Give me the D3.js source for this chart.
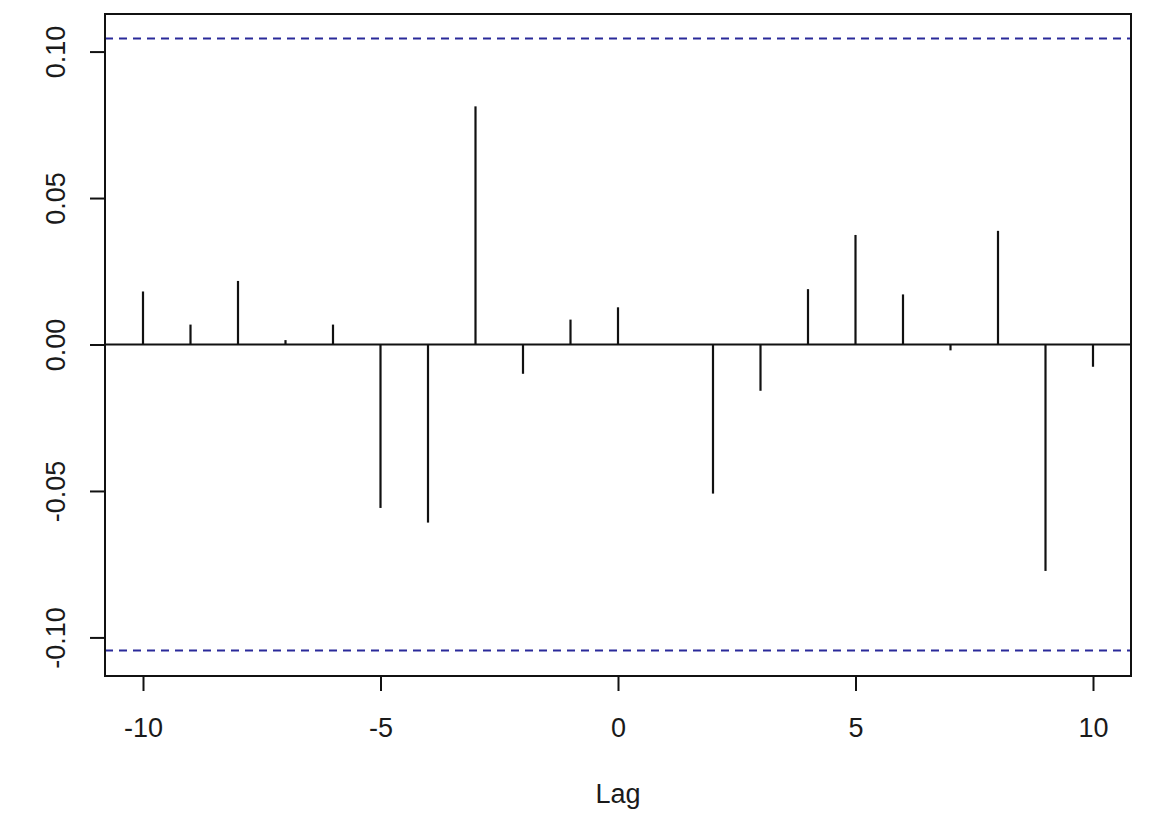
<!DOCTYPE html>
<html>
<head>
<meta charset="utf-8">
<script src="https://cdn.jsdelivr.net/npm/d3@7"></script>
<style>
  html, body { margin: 0; padding: 0; background: #fff; }
  svg { display: block; }
  text { font-family: "Liberation Sans", Arial, sans-serif; fill: #1a1a1a; }
</style>
</head>
<body>
<svg id="chart" width="1169" height="820"></svg>
<script>
// Data: cross-correlation values by lag
const lags = [-10, -9, -8, -7, -6, -5, -4, -3, -2, -1, 0, 1, 2, 3, 4, 5, 6, 7, 8, 9, 10];
const ccfValues = [0.0181, 0.0068, 0.0217, 0.0015, 0.0068, -0.0558, -0.0608, 0.0813, -0.0100, 0.0085, 0.0127,
                   0.0000, -0.0509, -0.0158, 0.0189, 0.0374, 0.0171, -0.0020, 0.0388, -0.0773, -0.0076];
const confLimit = 0.1045;
const xTicks = [-10, -5, 0, 5, 10];
const yTicks = [-0.10, -0.05, 0.00, 0.05, 0.10];
const xLabel = "Lag";

const svg = d3.select("#chart");
const plotLeft = 105, plotRight = 1131, plotTop = 14, plotBottom = 676;
const fontSize = 27;

const x = d3.scaleLinear().domain([-10.8, 10.8]).range([plotLeft, plotRight]);
const y = d3.scaleLinear().domain([-0.113, 0.113]).range([plotBottom - 0.5, plotTop - 0.5]);

// zero line
svg.append("line")
  .attr("x1", plotLeft).attr("x2", plotRight)
  .attr("y1", y(0)).attr("y2", y(0))
  .attr("stroke", "#111").attr("stroke-width", 2);

// spikes
svg.append("g").selectAll("line")
  .data(lags.map((l, i) => ({ lag: l, v: ccfValues[i] })))
  .join("line")
  .attr("x1", d => x(d.lag)).attr("x2", d => x(d.lag))
  .attr("y1", y(0)).attr("y2", d => y(d.v))
  .attr("stroke", "#111").attr("stroke-width", 2.2);

// confidence limits
[confLimit, -confLimit].forEach(c => {
  svg.append("line")
    .attr("x1", plotLeft).attr("x2", plotRight)
    .attr("y1", y(c)).attr("y2", y(c))
    .attr("stroke", "#2a2a9a").attr("stroke-width", 2)
    .attr("stroke-dasharray", "8,6");
});

// box
svg.append("rect")
  .attr("x", plotLeft).attr("y", plotTop)
  .attr("width", plotRight - plotLeft).attr("height", plotBottom - plotTop)
  .attr("fill", "none").attr("stroke", "#111").attr("stroke-width", 2);

// x axis
const xAxis = svg.append("g")
  .attr("transform", `translate(0,${plotBottom})`)
  .call(d3.axisBottom(x).tickValues(xTicks).tickSize(15).tickFormat(d3.format("d")));
xAxis.select(".domain").remove();
xAxis.selectAll(".tick line").attr("stroke", "#111").attr("stroke-width", 2);
xAxis.selectAll(".tick text")
  .attr("font-size", fontSize)
  .attr("font-family", "Liberation Sans, Arial, sans-serif")
  .attr("fill", "#1a1a1a")
  .attr("dy", null)
  .attr("y", 61)
  .text(d => d < 0 ? "-" + Math.abs(d) : d);

// y axis
const yAxis = svg.append("g")
  .attr("transform", `translate(${plotLeft},0)`)
  .call(d3.axisLeft(y).tickValues(yTicks).tickSize(15).tickFormat(d => d3.format(".2f")(d).replace("−", "-")));
yAxis.select(".domain").remove();
yAxis.selectAll(".tick line").attr("stroke", "#111").attr("stroke-width", 2);
yAxis.selectAll(".tick text")
  .attr("font-size", fontSize)
  .attr("font-family", "Liberation Sans, Arial, sans-serif")
  .attr("fill", "#1a1a1a")
  .attr("x", null).attr("dy", null)
  .attr("text-anchor", "middle")
  .attr("transform", "translate(-40,0) rotate(-90)")
  .attr("y", 0);

// x label
svg.append("text")
  .attr("x", x(0)).attr("y", 803)
  .attr("text-anchor", "middle")
  .attr("font-size", fontSize)
  .text(xLabel);
</script>
</body>
</html>
